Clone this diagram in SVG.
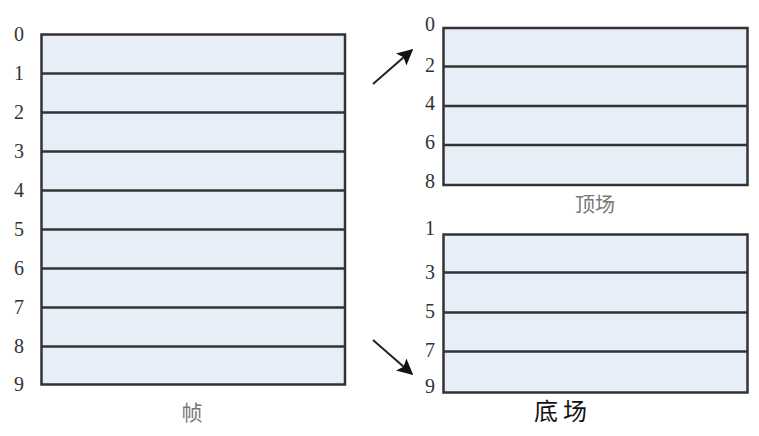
<svg xmlns="http://www.w3.org/2000/svg" width="759" height="436" viewBox="0 0 759 436">
<defs>
<style>
.box{fill:#e8eef8;stroke:#333;stroke-width:2.5}
.row{stroke:#333;stroke-width:2.5}
.num{font-family:"Liberation Serif",serif;font-size:20px;fill:#333;text-anchor:middle;dominant-baseline:central}
.cap{font-family:"Liberation Serif","Noto Sans CJK SC",serif;text-anchor:middle;dominant-baseline:central}
.arr{stroke:#222;stroke-width:2;fill:none;marker-end:url(#ah)}
</style>
<marker id="ah" viewBox="0 0 10 10" refX="9" refY="5" markerWidth="8" markerHeight="8" markerUnits="strokeWidth" orient="auto">
<path d="M0,0 L10,5 L0,10 L2,5 z" fill="#111"/>
</marker>
</defs>
<rect width="759" height="436" fill="#fff"/>
<g id="frame">
<rect class="box" x="41.5" y="34.5" width="303.5" height="350"/>
<line class="row" x1="41.5" y1="73.5" x2="345" y2="73.5"/>
<line class="row" x1="41.5" y1="112.5" x2="345" y2="112.5"/>
<line class="row" x1="41.5" y1="151.5" x2="345" y2="151.5"/>
<line class="row" x1="41.5" y1="190.5" x2="345" y2="190.5"/>
<line class="row" x1="41.5" y1="229.5" x2="345" y2="229.5"/>
<line class="row" x1="41.5" y1="268.5" x2="345" y2="268.5"/>
<line class="row" x1="41.5" y1="307.5" x2="345" y2="307.5"/>
<line class="row" x1="41.5" y1="346.5" x2="345" y2="346.5"/>
<text class="num" x="19" y="34">0</text>
<text class="num" x="19" y="73">1</text>
<text class="num" x="19" y="112">2</text>
<text class="num" x="19" y="151">3</text>
<text class="num" x="19" y="190">4</text>
<text class="num" x="19" y="229">5</text>
<text class="num" x="19" y="268">6</text>
<text class="num" x="19" y="307">7</text>
<text class="num" x="19" y="346">8</text>
<text class="num" x="19" y="384">9</text>
<text class="cap" x="192" y="413" font-size="21" fill="#777">帧</text>
</g>
<g id="top-field">
<rect class="box" x="443.5" y="28" width="304" height="157"/>
<line class="row" x1="443.5" y1="66.5" x2="747.5" y2="66.5"/>
<line class="row" x1="443.5" y1="106" x2="747.5" y2="106"/>
<line class="row" x1="443.5" y1="145" x2="747.5" y2="145"/>
<text class="num" x="430" y="24">0</text>
<text class="num" x="430" y="65">2</text>
<text class="num" x="430" y="103">4</text>
<text class="num" x="430" y="142">6</text>
<text class="num" x="430" y="181">8</text>
<text class="cap" x="595" y="205" font-size="20" fill="#777">顶场</text>
</g>
<g id="bottom-field">
<rect class="box" x="443.5" y="234.5" width="304" height="158"/>
<line class="row" x1="443.5" y1="272.5" x2="747.5" y2="272.5"/>
<line class="row" x1="443.5" y1="312.5" x2="747.5" y2="312.5"/>
<line class="row" x1="443.5" y1="351.5" x2="747.5" y2="351.5"/>
<text class="num" x="430" y="228">1</text>
<text class="num" x="430" y="272">3</text>
<text class="num" x="430" y="311">5</text>
<text class="num" x="430" y="350">7</text>
<text class="num" x="430" y="386">9</text>
<text class="cap" x="563" y="412" font-size="24" fill="#111" letter-spacing="5">底场</text>
</g>
<g id="connectors">
<line class="arr" x1="373" y1="84" x2="412" y2="50"/>
<line class="arr" x1="373" y1="340" x2="412" y2="374"/>
</g>
</svg>
